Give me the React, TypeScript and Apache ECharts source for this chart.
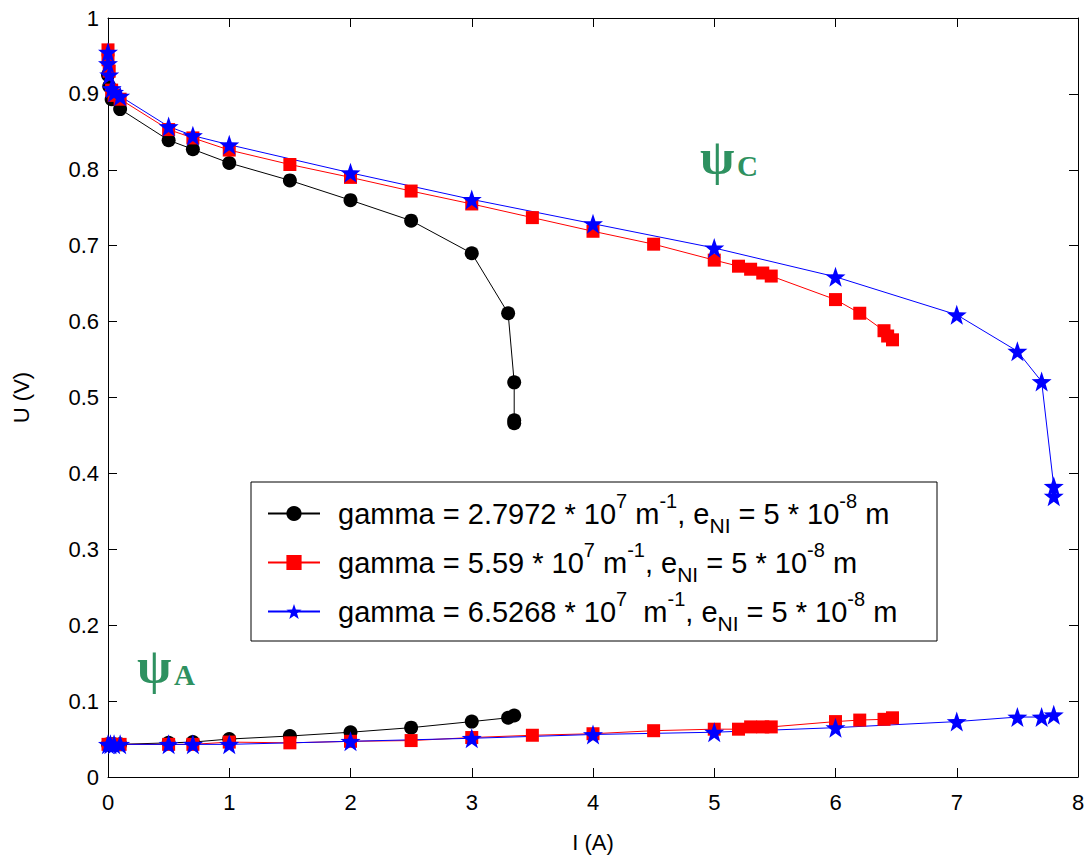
import React, { useEffect, useRef } from "react";
import * as echarts from "echarts";

// ---- data (I in A, U in V) ----
const blackUpperI = [0, 0.01, 0.03, 0.1, 0.5, 0.7, 1.0, 1.5, 2.0, 2.5, 3.0, 3.3, 3.35, 3.35, 3.35];
const blackUpperU = [0.925, 0.91, 0.893, 0.88, 0.839, 0.827, 0.809, 0.786, 0.76, 0.733, 0.69, 0.611, 0.52, 0.47, 0.466];
const blackLowerI = [0, 0.02, 0.05, 0.1, 0.5, 0.7, 1.0, 1.5, 2.0, 2.5, 3.0, 3.3, 3.35];
const blackLowerU = [0.043, 0.043, 0.043, 0.043, 0.045, 0.046, 0.05, 0.054, 0.059, 0.065, 0.073, 0.078, 0.081];

const redUpperI = [0, 0, 0.01, 0.03, 0.05, 0.1, 0.5, 0.7, 1.0, 1.5, 2.0, 2.5, 3.0, 3.5, 4.0, 4.5, 5.0, 5.2, 5.3, 5.4, 5.47, 6.0, 6.2, 6.4, 6.43, 6.47];
const redUpperU = [0.958, 0.945, 0.93, 0.905, 0.898, 0.893, 0.853, 0.842, 0.826, 0.807, 0.79, 0.772, 0.755, 0.737, 0.719, 0.702, 0.681, 0.673, 0.669, 0.664, 0.66, 0.629, 0.611, 0.588, 0.581, 0.576];
const redLowerI = [0, 0.02, 0.05, 0.1, 0.5, 0.7, 1.0, 1.5, 2.0, 2.5, 3.0, 3.5, 4.0, 4.5, 5.0, 5.2, 5.3, 5.4, 5.47, 6.0, 6.2, 6.4, 6.47];
const redLowerU = [0.043, 0.043, 0.043, 0.043, 0.043, 0.043, 0.046, 0.045, 0.047, 0.048, 0.052, 0.055, 0.057, 0.061, 0.063, 0.063, 0.066, 0.066, 0.066, 0.073, 0.075, 0.076, 0.078];

const blueUpperI = [0, 0, 0.01, 0.03, 0.05, 0.1, 0.5, 0.7, 1.0, 2.0, 3.0, 4.0, 5.0, 6.0, 7.0, 7.5, 7.7, 7.8, 7.8];
const blueUpperU = [0.955, 0.94, 0.925, 0.907, 0.902, 0.897, 0.857, 0.845, 0.833, 0.796, 0.761, 0.729, 0.697, 0.659, 0.609, 0.561, 0.521, 0.383, 0.37];
const blueLowerI = [0, 0.02, 0.05, 0.1, 0.5, 0.7, 1.0, 2.0, 3.0, 4.0, 5.0, 6.0, 7.0, 7.5, 7.7, 7.8];
const blueLowerU = [0.043, 0.043, 0.043, 0.043, 0.043, 0.043, 0.043, 0.047, 0.051, 0.056, 0.059, 0.065, 0.073, 0.079, 0.079, 0.082];

const seriesNames = [
  "gamma = 2.7972 * 10{sup|7} m{sup|-1}, e{sub|NI} = 5 * 10{sup|-8} m",
  "gamma = 5.59 * 10{sup|7} m{sup|-1}, e{sub|NI} = 5 * 10{sup|-8} m",
  "gamma = 6.5268 * 10{sup|7}  m{sup|-1}, e{sub|NI} = 5 * 10{sup|-8} m",
];
const nameKeys = ["g1", "g2", "g3"];

const xTicks = { min: 0, max: 8, interval: 1 };
const yTicks = { min: 0, max: 1, interval: 0.1 };

const zip = (a: number[], b: number[]) => a.map((v, i) => [v, b[i]]);

const STAR = "path://M0,-10 L2.35,-3.24 L9.51,-3.09 L3.8,1.24 L5.88,8.09 L0,4 L-5.88,8.09 L-3.8,1.24 L-9.51,-3.09 L-2.35,-3.24 Z";

export default function App() {
  const ref = useRef<HTMLDivElement>(null);
  useEffect(() => {
    if (!ref.current) return;
    const chart = echarts.init(ref.current, undefined, { renderer: "svg" });
    const font = "Liberation Sans";
    const mk = (key: string, data: number[][], color: string, symbol: string, size: number) => ({
      type: "line",
      name: key,
      data,
      symbol,
      symbolSize: size,
      showSymbol: true,
      lineStyle: { color, width: 1 },
      itemStyle: { color, borderWidth: 0 },
      emphasis: { disabled: true },
    });
    const nameMap: Record<string, string> = {};
    nameKeys.forEach((k, i) => (nameMap[k] = seriesNames[i]));
    const axisCommon = {
      axisLine: { show: true, onZero: false, lineStyle: { color: "#000", width: 1 } },
      axisTick: { show: true, inside: true, length: 9, lineStyle: { color: "#000" } },
      splitLine: { show: false },
    };
    const green = "#2e9160";
    chart.setOption({
      animation: false,
      backgroundColor: "#fff",
      grid: { left: 108, top: 18, width: 970, height: 762 },
      xAxis: [
        {
          type: "value", position: "bottom", ...xTicks, ...axisCommon,
          axisLabel: { fontFamily: font, fontSize: 22, color: "#000", margin: 14 },
          name: "I (A)", nameLocation: "middle", nameGap: 54,
          nameTextStyle: { fontFamily: font, fontSize: 22, color: "#000" },
        },
        { type: "value", position: "top", ...xTicks, ...axisCommon, axisLabel: { show: false } },
      ],
      yAxis: [
        {
          type: "value", position: "left", ...yTicks, ...axisCommon,
          axisLabel: { fontFamily: font, fontSize: 22, color: "#000", margin: 9 },
          name: "U (V)", nameLocation: "middle", nameGap: 76, nameRotate: 90,
          nameTextStyle: { fontFamily: font, fontSize: 22, color: "#000" },
        },
        { type: "value", position: "right", ...yTicks, ...axisCommon, axisLabel: { show: false } },
      ],
      legend: {
        data: nameKeys,
        orient: "vertical",
        left: 251,
        top: 482,
        padding: [9, 16, 10, 16],
        itemGap: 4,
        itemWidth: 52,
        itemHeight: 19,
        formatter: (n: string) => nameMap[n],
        textStyle: {
          fontFamily: font,
          fontSize: 29,
          color: "#000",
          lineHeight: 45,
          padding: [0, 0, 0, 13],
          rich: {
            sup: { fontFamily: font, fontSize: 20, color: "#000", verticalAlign: "top", lineHeight: 20 },
            sub: { fontFamily: font, fontSize: 21, color: "#000", verticalAlign: "bottom", lineHeight: 32 },
          },
        },
        selectedMode: false,
        z: 5,
      },
      graphic: [
        {
          type: "rect", z: 3, shape: { x: 251, y: 482, width: 686, height: 159 },
          style: { fill: "#fff", stroke: "#000", lineWidth: 1 },
        },
        { type: "text", x: 700, y: 157, style: { text: "ψ", fontFamily: "Liberation Serif", fontWeight: "bold", fontSize: 50, fill: green, verticalAlign: "middle" } },
        { type: "text", x: 737, y: 166, style: { text: "C", fontFamily: "Liberation Serif", fontWeight: "bold", fontSize: 29, fill: green, verticalAlign: "middle" } },
        { type: "text", x: 137, y: 666, style: { text: "ψ", fontFamily: "Liberation Serif", fontWeight: "bold", fontSize: 50, fill: green, verticalAlign: "middle" } },
        { type: "text", x: 174, y: 675, style: { text: "A", fontFamily: "Liberation Serif", fontWeight: "bold", fontSize: 29, fill: green, verticalAlign: "middle" } },
      ],
      series: [
        mk("g1", zip(blackUpperI, blackUpperU), "#000000", "circle", 14),
        mk("g1", zip(blackLowerI, blackLowerU), "#000000", "circle", 14),
        mk("g2", zip(redUpperI, redUpperU), "#ff0000", "rect", 13),
        mk("g2", zip(redLowerI, redLowerU), "#ff0000", "rect", 13),
        mk("g3", zip(blueUpperI, blueUpperU), "#0000ff", STAR, 20),
        mk("g3", zip(blueLowerI, blueLowerU), "#0000ff", STAR, 20),
      ],
    });
    return () => chart.dispose();
  }, []);
  return <div ref={ref} style={{ position: "absolute", left: 0, top: 0, width: 1091, height: 858 }} />;
}
